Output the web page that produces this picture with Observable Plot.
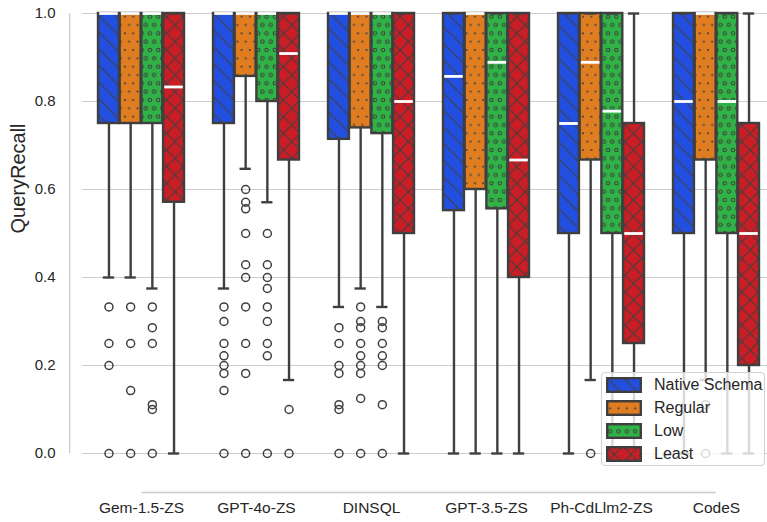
<!DOCTYPE html>
<html>
<head>
<meta charset="utf-8">
<script src="https://cdn.jsdelivr.net/npm/d3@7"></script>
<script src="https://cdn.jsdelivr.net/npm/@observablehq/plot@0.6"></script>
<style>
  html, body { margin: 0; padding: 0; background: #fff; overflow: hidden; }
  #wrap { position: relative; width: 767px; height: 522px; overflow: hidden; font-family: "Liberation Sans", Arial, sans-serif; }
  #wrap > svg { max-width: none !important; height: 522px !important; display: block; }
  #legend { position: absolute; left: 601px; top: 372px; width: 164px; height: 94px; box-sizing: border-box;
    background: rgba(255,255,255,0.8); border: 1px solid #d0d0d0; border-radius: 4px; }
  .lrow { position: absolute; left: 4px; height: 16px; display: flex; align-items: center; }
  .lrow span { margin-left: 12px; font-size: 16px; color: #262626; }
</style>
</head>
<body>
<svg width="0" height="0" style="position:absolute">
  <defs id="hatchdefs"></defs>
</svg>
<div id="wrap"></div>
<script>
// ---------------- data ----------------
const models = ["Gem-1.5-ZS", "GPT-4o-ZS", "DINSQL", "GPT-3.5-ZS", "Ph-CdLlm2-ZS", "CodeS"];
const groups = ["Native Schema", "Regular", "Low", "Least"];
const yTicks = [0, 0.2, 0.4, 0.6, 0.8, 1.0];

// rows: groups, columns: models
const whiskerLow = [
  [0.4, 0.375, 0.333, 0, 0, 0],
  [0.4, 0.647, 0.375, 0, 0.167, 0.167],
  [0.375, 0.571, 0.333, 0, 0, 0],
  [0, 0.167, 0, 0, 0, 0]
];
const q1 = [
  [0.75, 0.75, 0.714, 0.552, 0.5, 0.5],
  [0.75, 0.857, 0.74, 0.6, 0.667, 0.667],
  [0.75, 0.8, 0.727, 0.556, 0.5, 0.5],
  [0.571, 0.667, 0.5, 0.4, 0.25, 0.2]
];
const median = [
  [1, 1, 1, 0.857, 0.75, 0.8],
  [1, 1, 1, 1, 0.889, 1],
  [1, 1, 1, 0.889, 0.778, 0.8],
  [0.833, 0.909, 0.8, 0.667, 0.5, 0.5]
];
const q3 = [
  [1, 1, 1, 1, 1, 1],
  [1, 1, 1, 1, 1, 1],
  [1, 1, 1, 1, 1, 1],
  [1, 1, 1, 1, 0.75, 0.75]
];
const whiskerHigh = [
  [1, 1, 1, 1, 1, 1],
  [1, 1, 1, 1, 1, 1],
  [1, 1, 1, 1, 1, 1],
  [1, 1, 1, 1, 1, 1]
];
const outliers = [
  [[0.333, 0.25, 0.2, 0], [0.333, 0.3, 0.25, 0.222, 0.2, 0.182, 0.143, 0], [0.286, 0.25, 0.2, 0.182, 0.111, 0.1, 0], [], [], []],
  [[0.333, 0.25, 0.143, 0], [0.6, 0.571, 0.556, 0.5, 0.429, 0.4, 0.333, 0.25, 0.182, 0], [0.333, 0.3, 0.286, 0.25, 0.222, 0.2, 0.182, 0.125, 0], [], [0], [0.111, 0]],
  [[0.333, 0.286, 0.25, 0.111, 0.1, 0], [0.5, 0.429, 0.4, 0.375, 0.333, 0.3, 0.25, 0.222, 0], [0.3, 0.286, 0.25, 0.222, 0.2, 0.111, 0], [], [], []],
  [[], [0.1, 0], [], [], [], []]
];

// ---------------- style ----------------
const colors = ["#224fdf", "#df7d20", "#30b346", "#cb1d25"];
const edge = "#3f3f3f";
const grid = "#cccccc";
const textColor = "#262626";

// hatch patterns
const s1 = 16.67, s2 = 8.33;
const defs = document.getElementById("hatchdefs");
defs.innerHTML = `
  <pattern id="hatch0" patternUnits="userSpaceOnUse" width="${s1}" height="${s1}">
    <path d="M0,0L${s1},${s1}M-2,${s1-2}L2,${s1+2}M${s1-2},-2L${s1+2},2" stroke="${edge}" stroke-width="1.1" fill="none"/>
  </pattern>
  <pattern id="hatch1" patternUnits="userSpaceOnUse" width="${s2}" height="${2*s2}">
    <g fill="${edge}">
      <circle cx="0" cy="0" r="1.1"/><circle cx="${s2}" cy="0" r="1.1"/>
      <circle cx="0" cy="${2*s2}" r="1.1"/><circle cx="${s2}" cy="${2*s2}" r="1.1"/>
      <circle cx="${s2/2}" cy="${s2}" r="1.1"/>
    </g>
  </pattern>
  <pattern id="hatch2" patternUnits="userSpaceOnUse" width="${s2}" height="${2*s2}">
    <g fill="none" stroke="${edge}" stroke-width="1.1">
      <circle cx="0" cy="0" r="1.7"/><circle cx="${s2}" cy="0" r="1.7"/>
      <circle cx="0" cy="${2*s2}" r="1.7"/><circle cx="${s2}" cy="${2*s2}" r="1.7"/>
      <circle cx="${s2/2}" cy="${s2}" r="1.7"/>
    </g>
  </pattern>
  <pattern id="hatch3" patternUnits="userSpaceOnUse" width="${s1}" height="${s1}">
    <path d="M0,0L${s1},${s1}M${s1},0L0,${s1}" stroke="${edge}" stroke-width="1.1" fill="none"/>
  </pattern>`;

// ---------------- layout ----------------
const W = 790, H = 522;
const mL = 82, mR = W - 776, mT = 13, mB = H - 453;
const band = d3.scaleBand().domain(models).range([mL, W - mR]).paddingInner(0.25).paddingOuter(0.125);
const bw = band.bandwidth();
const sub = bw / groups.length;
const capHalf = 6;
const lw = 2.4;

const marks = [
  Plot.gridY(yTicks, {stroke: grid, strokeOpacity: 1, strokeWidth: 1.2}),
  // left spine (offset)
  Plot.ruleX([models[0]], {x: d => d, y1: 0, y2: 1, dx: (mL - 14) - (band(models[0]) + bw / 2), stroke: grid, strokeWidth: 1.3}),
  // bottom spine (offset, trimmed)
  Plot.ruleY([{a: models[0], b: models[models.length - 1], y: 0}], {x1: "a", x2: "b", y: "y", insetLeft: bw / 2, insetRight: bw / 2, dy: 39, stroke: grid, strokeWidth: 1.3}),
  Plot.axisY(yTicks, {tickSize: 0, tickPadding: 27, tickFormat: d3.format(".1f"), fontSize: 15, label: null, fill: textColor}),
  Plot.axisX({tickSize: 0, tickPadding: 48, fontSize: 15.5, label: null, fill: textColor}),
  Plot.text(["QueryRecall"], {frameAnchor: "left", rotate: -90, dx: -64, fontSize: 20, fill: textColor})
];

groups.forEach((g, gi) => {
  const rows = models.map((m, mi) => ({
    model: m, lo: whiskerLow[gi][mi], q1: q1[gi][mi], med: median[gi][mi], q3: q3[gi][mi], hi: whiskerHigh[gi][mi]
  }));
  const outs = models.flatMap((m, mi) => outliers[gi][mi].map(v => ({model: m, value: v})));
  const iL = gi * sub, iR = (groups.length - 1 - gi) * sub;
  const dx = (gi - (groups.length - 1) / 2) * sub;
  marks.push(
    Plot.barY(rows, {x: "model", y1: "q1", y2: "q3", fill: colors[gi], insetLeft: iL, insetRight: iR}),
    Plot.barY(rows, {x: "model", y1: "q1", y2: "q3", fill: `url(#hatch${gi})`, stroke: edge, strokeWidth: lw, insetLeft: iL, insetRight: iR}),
    Plot.ruleX(rows, {x: "model", y1: "lo", y2: "q1", dx, stroke: edge, strokeWidth: lw}),
    Plot.ruleX(rows.filter(r => r.hi > r.q3), {x: "model", y1: "q3", y2: "hi", dx, stroke: edge, strokeWidth: lw}),
    Plot.tickY(rows, {x: "model", y: "lo", stroke: edge, strokeWidth: lw, insetLeft: iL + sub / 2 - capHalf, insetRight: iR + sub / 2 - capHalf}),
    Plot.tickY(rows, {x: "model", y: "hi", stroke: edge, strokeWidth: lw, insetLeft: iL + sub / 2 - capHalf, insetRight: iR + sub / 2 - capHalf}),
    Plot.tickY(rows, {x: "model", y: "med", stroke: "white", strokeWidth: 2.8, insetLeft: iL + 1.2, insetRight: iR + 1.2}),
    Plot.dot(outs, {x: "model", y: "value", dx, r: 4, stroke: edge, strokeWidth: 1.5, fill: "none"})
  );
});

const chart = Plot.plot({
  width: W, height: H,
  marginLeft: mL, marginRight: mR, marginTop: mT, marginBottom: mB,
  x: {type: "band", domain: models, paddingInner: 0.25, paddingOuter: 0.125, axis: null},
  y: {domain: [0, 1], axis: null},
  style: {fontFamily: '"Liberation Sans", Arial, sans-serif', background: "white", color: textColor, maxWidth: "none"},
  marks
});
chart.style.maxWidth = "none";
chart.style.width = W + "px";
chart.style.height = H + "px";
const wrap = document.getElementById("wrap");
wrap.appendChild(chart);

// legend overlay
const legend = document.createElement("div");
legend.id = "legend";
const rowTops = [4, 27, 50, 73];
groups.forEach((g, gi) => {
  const row = document.createElement("div");
  row.className = "lrow";
  row.style.top = rowTops[gi] + "px";
  row.innerHTML = `<svg width="36" height="16"><rect x="1.2" y="1.2" width="33.6" height="13.6" fill="${colors[gi]}"/><rect x="1.2" y="1.2" width="33.6" height="13.6" fill="url(#hatch${gi})" stroke="${edge}" stroke-width="${lw}"/></svg><span>${g}</span>`;
  legend.appendChild(row);
});
wrap.appendChild(legend);
</script>
</body>
</html>
